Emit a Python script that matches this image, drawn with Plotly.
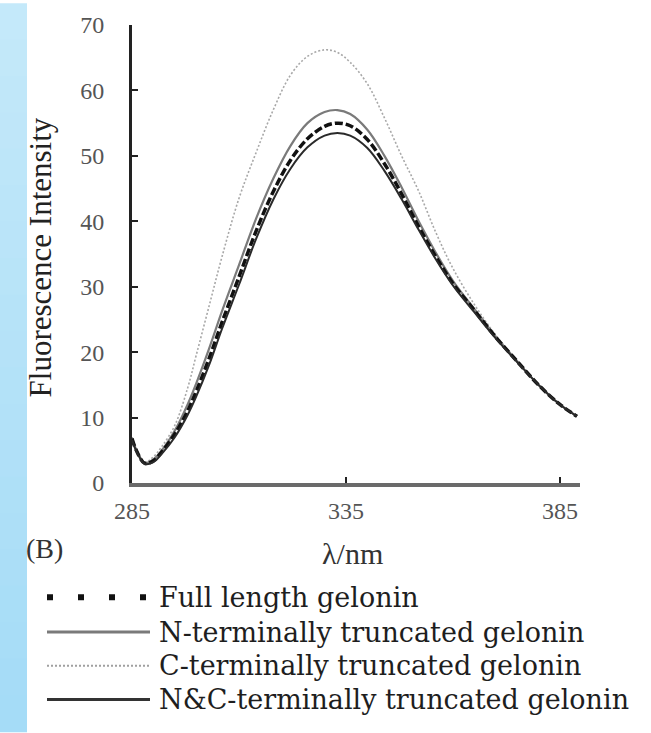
import plotly.graph_objects as go

# ---------------- data ----------------
wavelength = [285, 286, 288, 290, 292, 295, 298, 300, 303, 306, 310, 314, 318, 322, 326,
              330, 333, 336, 340, 344, 348, 352, 356, 360, 365, 370, 375, 380, 385, 389]

full_length = [6.8, 5.0, 3.0, 3.4, 4.8, 7.5, 11.0, 14.0, 19.0, 24.5, 31.5, 38.5, 44.5, 49.3, 52.6,
               54.5, 55.0, 54.6, 52.5, 48.8, 44.2, 39.2, 34.6, 30.5, 26.4, 22.3, 18.6, 15.0, 12.0, 10.2]

n_truncated = [6.9, 5.1, 3.1, 3.6, 5.0, 8.0, 12.0, 15.2, 20.5, 26.2, 33.3, 40.4, 46.5, 51.5, 55.0,
               56.7, 57.0, 56.4, 54.0, 50.0, 45.2, 40.0, 35.2, 30.9, 26.6, 22.4, 18.6, 15.0, 12.0, 10.2]

c_truncated = [7.0, 5.2, 3.2, 4.0, 5.6, 8.8, 14.5, 19.5, 27.0, 34.5, 43.5, 50.5, 57.0, 62.3, 65.2,
               66.2, 65.8, 64.3, 61.0, 55.8, 50.0, 44.6, 38.3, 32.8, 27.3, 22.6, 18.7, 15.0, 12.0, 10.2]

nc_truncated = [6.6, 4.9, 2.9, 3.2, 4.5, 7.0, 10.4, 13.2, 18.0, 23.5, 30.3, 37.3, 43.3, 48.0, 51.3,
                53.1, 53.5, 53.1, 51.2, 47.7, 43.4, 38.7, 34.2, 30.2, 26.1, 22.1, 18.5, 15.0, 12.0, 10.2]

series_names = ["Full length gelonin", "N-terminally truncated gelonin",
                "C-terminally truncated gelonin", "N&C-terminally truncated gelonin"]
series_values = [full_length, n_truncated, c_truncated, nc_truncated]

y_ticks = [0, 10, 20, 30, 40, 50, 60, 70]
x_ticks = [285, 335, 385]

# ---------------- styles ----------------
W, H = 651, 733
L, R, T, B = 132, 580, 22, 483  # plot area pixels
FONT = "'Liberation Serif', 'Times New Roman', Times, 'DejaVu Serif', serif"
LEGEND_FONT = "'DejaVu Serif', 'Liberation Serif', serif"

trace_styles = [
    dict(color="#111111", width=3.5, dash="8px,3px"),
    dict(color="#7a7a7a", width=2.2, dash="solid"),
    dict(color="#a8a8a8", width=1.6, dash="2px,2px"),
    dict(color="#2a2a2a", width=2.0, dash="solid"),
]
legend_styles = [
    dict(color="#111111", width=6, dash="6px,25px"),
    dict(color="#7a7a7a", width=3, dash="solid"),
    dict(color="#a0a0a0", width=2, dash="2px,2px"),
    dict(color="#333333", width=3, dash="solid"),
]
# draw order: C first (behind), then others
order = [2, 1, 0, 3]

fig = go.Figure()
for i in order:
    fig.add_trace(go.Scatter(x=wavelength, y=series_values[i], mode="lines",
                             name=series_names[i], line=dict(shape="spline", **trace_styles[i]),
                             showlegend=False))


def px_x(px):
    return (px - L) / (R - L)


def px_y(py):
    return (B - py) / (B - T)


shapes = []
# light-blue page strip on the left edge (decoration)
n_bands = 20
for k in range(n_bands):
    t = k / (n_bands - 1)
    r = int(196 + (165 - 196) * t)
    g = int(233 + (220 - 233) * t)
    b = int(250 + (247 - 250) * t)
    shapes.append(dict(type="rect", xref="paper", yref="paper",
                       x0=px_x(0), x1=px_x(27),
                       y0=px_y(k * H / n_bands + H / n_bands + 1), y1=px_y(k * H / n_bands),
                       line=dict(width=0), fillcolor=f"rgb({r},{g},{b})", layer="below"))

annotations = []
legend_rows_y = [598, 633, 667, 701]
for i, name in enumerate(series_names):
    yy = px_y(legend_rows_y[i])
    shapes.append(dict(type="line", xref="paper", yref="paper",
                       x0=px_x(47), x1=px_x(150), y0=yy, y1=yy,
                       line=legend_styles[i]))
    annotations.append(dict(xref="paper", yref="paper", x=px_x(157), y=yy,
                            xanchor="left", yanchor="middle", showarrow=False,
                            text=name, font=dict(family=LEGEND_FONT, size=27, color="#1e1e1e")))

annotations.append(dict(xref="paper", yref="paper", x=px_x(40), y=px_y(256),
                        textangle=-90, showarrow=False, xanchor="center", yanchor="middle",
                        text="Fluorescence Intensity",
                        font=dict(family=FONT, size=31, color="#222222")))
annotations.append(dict(xref="paper", yref="paper", x=px_x(352), y=px_y(554),
                        showarrow=False, xanchor="center", yanchor="middle",
                        text="λ/nm", font=dict(family=FONT, size=30, color="#333333")))
annotations.append(dict(xref="paper", yref="paper", x=px_x(24), y=px_y(549),
                        showarrow=False, xanchor="left", yanchor="middle",
                        text="(B)", font=dict(family=FONT, size=28, color="#333333")))

fig.update_layout(
    width=W, height=H,
    margin=dict(l=L, r=W - R, t=T, b=H - B),
    paper_bgcolor="white", plot_bgcolor="white",
    shapes=shapes, annotations=annotations,
    showlegend=False,
    font=dict(family=FONT),
    xaxis=dict(range=[285, 389.7], tickvals=x_ticks, ticktext=[str(v) for v in x_ticks],
               showgrid=False, zeroline=False, showline=True, linecolor="#6a6a6a", linewidth=4,
               ticks="inside", ticklen=6, tickwidth=2, tickcolor="#222222",
               ticklabelstandoff=3,
               tickfont=dict(family=FONT, size=24, color="#555555")),
    yaxis=dict(range=[0, 70], tickvals=y_ticks, ticktext=[str(v) for v in y_ticks],
               showgrid=False, zeroline=False, showline=True, linecolor="#222222", linewidth=3,
               ticks="inside", ticklen=6, tickwidth=2, tickcolor="#222222",
               ticklabelstandoff=20,
               tickfont=dict(family=FONT, size=24, color="#555555")),
)

fig.write_html("out.html")
